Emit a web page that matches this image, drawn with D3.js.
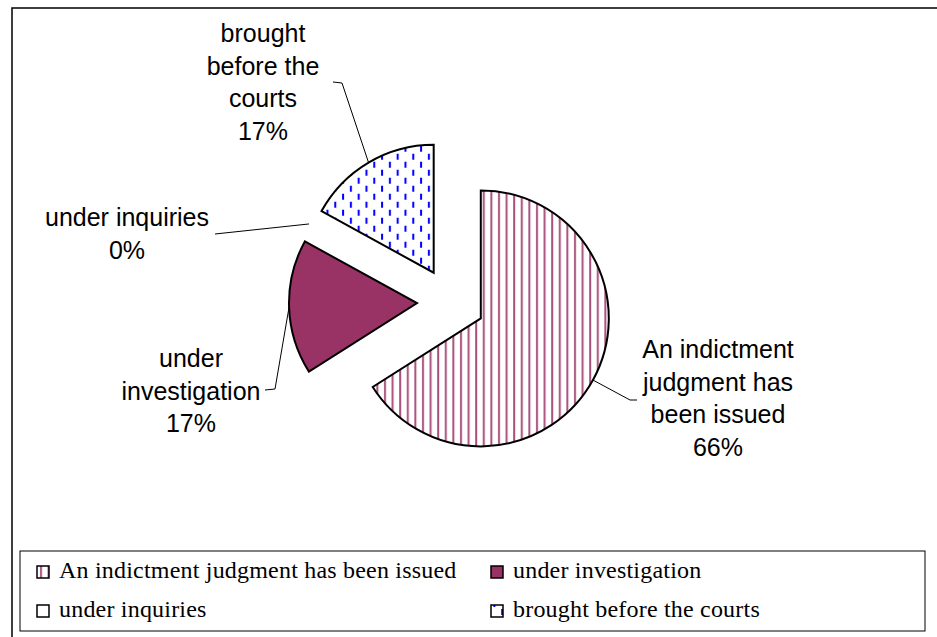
<!DOCTYPE html>
<html lang="en">
<head>
    <meta charset="UTF-8">
    <title>Case status</title>
    <script src="https://d3js.org/d3.v7.min.js"></script>
    <style>
        body {
            margin: 0;
            background: #ffffff;
        }
        .data-label {
            font-family: "Liberation Sans", Arial, sans-serif;
            font-size: 25px;
            fill: #000;
        }
        .legend-text {
            font-family: "Liberation Serif", "Times New Roman", serif;
            font-size: 24px;
            letter-spacing: 0.2px;
            fill: #000;
        }
    </style>
</head>
<body>
    <div id="chart"></div>

    <script>
        // data
        const categories = [
            "An indictment judgment has been issued",
            "under investigation",
            "under inquiries",
            "brought before the courts"
        ];
        const values = [66, 17, 0, 17];
        const percentLabels = ["66%", "17%", "0%", "17%"];
        const labelLines = [
            ["An indictment", "judgment has", "been issued"],
            ["under", "investigation"],
            ["under inquiries"],
            ["brought", "before the", "courts"]
        ];

        // layout
        const W = 937, H = 637;
        const cx = 451, cy = 302;
        const radius = 128;
        const explode = 34;

        // label anchor (centre of first baseline) and leader line bends
        const labelLayout = [
            { x: 718, y: 358, bend: [[630, 400], [637, 400]] },
            { x: 191, y: 367, bend: [[275, 389], [265, 390]] },
            { x: 127, y: 226, bend: [[215, 234]] },
            { x: 263, y: 42, bend: [[342, 83], [333, 82]] }
        ];
        const lineHeight = 32.5;

        const svg = d3.select("#chart")
            .append("svg")
            .attr("width", W)
            .attr("height", H);

        // fill patterns
        const defs = svg.append("defs");

        const stripes = defs.append("pattern")
            .attr("id", "stripes")
            .attr("patternUnits", "userSpaceOnUse")
            .attr("width", 7.6)
            .attr("height", 8);
        stripes.append("rect").attr("width", 7.6).attr("height", 8).attr("fill", "#fff");
        stripes.append("rect").attr("x", 2).attr("width", 2).attr("height", 8)
            .attr("fill", "#993366").attr("opacity", 0.85);

        const dashes = defs.append("pattern")
            .attr("id", "dashes")
            .attr("patternUnits", "userSpaceOnUse")
            .attr("width", 15.6)
            .attr("height", 16);
        dashes.append("rect").attr("width", 15.6).attr("height", 16).attr("fill", "#fff");
        dashes.append("rect").attr("x", 2).attr("y", 1).attr("width", 2).attr("height", 6).attr("fill", "#0000ff");
        dashes.append("rect").attr("x", 9.8).attr("y", 9).attr("width", 2).attr("height", 6).attr("fill", "#0000ff");

        const fills = ["url(#stripes)", "#993366", "#ffffff", "url(#dashes)"];

        // outer frame
        svg.append("rect")
            .attr("x", 12)
            .attr("y", 8)
            .attr("width", W)
            .attr("height", H)
            .attr("fill", "none")
            .attr("stroke", "#000")
            .attr("stroke-width", 1.5);

        // pie
        const pie = d3.pie().sort(null).value(d => d);
        const arcs = pie(values);
        const arc = d3.arc().innerRadius(0).outerRadius(radius);

        const offset = d => {
            const mid = (d.startAngle + d.endAngle) / 2;
            return [Math.sin(mid) * explode, -Math.cos(mid) * explode];
        };

        const g = svg.append("g").attr("transform", `translate(${cx},${cy})`);

        g.selectAll("path.slice")
            .data(arcs.filter(d => d.value > 0))
            .enter()
            .append("path")
            .attr("class", "slice")
            .attr("transform", d => `translate(${offset(d)})`)
            .attr("d", arc)
            .attr("fill", d => fills[d.index])
            .attr("stroke", "#000")
            .attr("stroke-width", 2)
            .attr("stroke-linejoin", "miter");

        // leader lines from the outer edge of each slice
        arcs.forEach((d, i) => {
            const mid = (d.startAngle + d.endAngle) / 2;
            const r = radius + explode;
            const start = [cx + Math.sin(mid) * r, cy - Math.cos(mid) * r];
            const pts = [start, ...labelLayout[i].bend];
            svg.append("path")
                .attr("d", d3.line()(pts))
                .attr("fill", "none")
                .attr("stroke", "#000")
                .attr("stroke-width", 1);

            const lines = labelLines[i].concat([percentLabels[i]]);
            const t = svg.append("text")
                .attr("class", "data-label")
                .attr("text-anchor", "middle");
            lines.forEach((ln, j) => {
                t.append("tspan")
                    .attr("x", labelLayout[i].x)
                    .attr("y", labelLayout[i].y + j * lineHeight)
                    .text(ln);
            });
        });

        // legend
        const legend = svg.append("g");
        legend.append("rect")
            .attr("x", 20)
            .attr("y", 551)
            .attr("width", 905)
            .attr("height", 80)
            .attr("fill", "#fff")
            .attr("stroke", "#000")
            .attr("stroke-width", 1);

        const legendCols = [37, 491];
        const legendRows = [566, 605];

        categories.forEach((c, i) => {
            const lx = legendCols[i % 2];
            const ly = legendRows[Math.floor(i / 2)];
            legend.append("rect")
                .attr("x", lx)
                .attr("y", ly)
                .attr("width", 12)
                .attr("height", 12)
                .attr("fill", fills[i])
                .attr("stroke", "#000")
                .attr("stroke-width", 1.5);
            legend.append("text")
                .attr("class", "legend-text")
                .attr("x", lx + 22)
                .attr("y", ly + 12)
                .text(c);
        });
    </script>
</body>
</html>
